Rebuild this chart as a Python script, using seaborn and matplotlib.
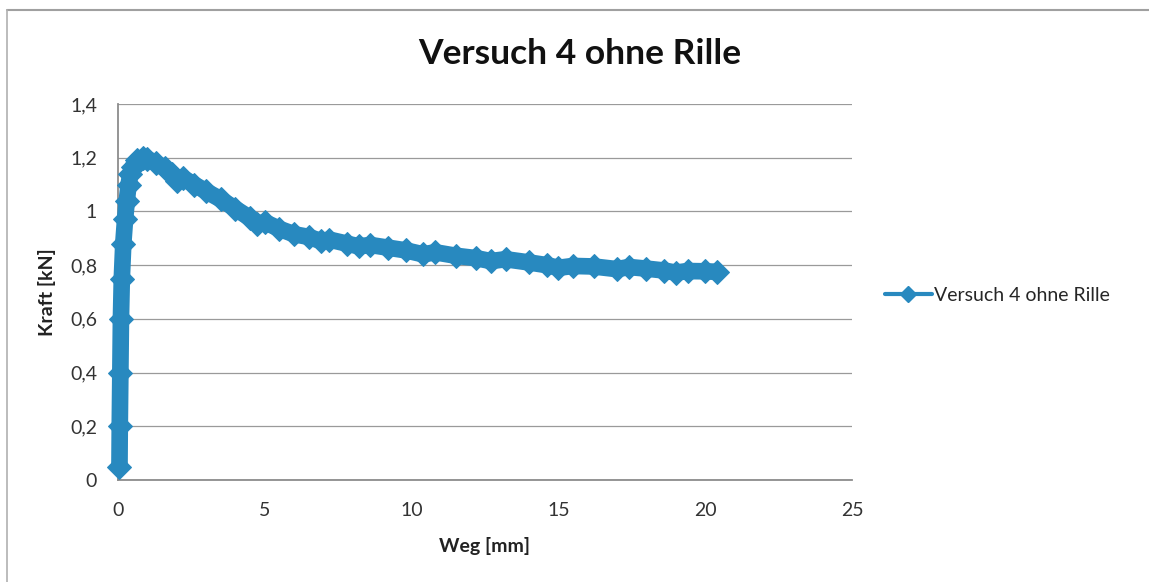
import matplotlib
matplotlib.use("Agg")
import matplotlib.pyplot as plt
import matplotlib.lines as mlines
import seaborn as sns
import pandas as pd

# Kraft-Weg-Verlauf, Versuch 4 ohne Rille
weg_mm = [0.05, 0.06, 0.08, 0.1, 0.13, 0.18, 0.24, 0.3, 0.36, 0.42, 0.5,
          0.65, 0.85, 1.0, 1.3, 1.6, 1.85, 2.0, 2.2, 2.6, 3.0, 3.5, 4.0, 4.5,
          4.75, 5.0, 5.5, 6.0, 6.5, 6.9, 7.2, 7.8, 8.2, 8.6, 9.2, 9.8, 10.4,
          10.8, 11.5, 12.2, 12.7, 13.2, 14.0, 14.6, 15.0, 15.5, 16.2, 17.0,
          17.4, 18.0, 18.6, 19.0, 19.4, 20.0, 20.4]
kraft_kn = [0.05, 0.2, 0.4, 0.6, 0.75, 0.88, 0.97, 1.04, 1.1, 1.14, 1.165,
            1.19, 1.2, 1.195, 1.18, 1.16, 1.14, 1.115, 1.125, 1.10, 1.075,
            1.045, 1.01, 0.975, 0.955, 0.96, 0.935, 0.915, 0.905, 0.89,
            0.895, 0.88, 0.87, 0.875, 0.865, 0.855, 0.84, 0.848, 0.835,
            0.826, 0.815, 0.822, 0.81, 0.80, 0.79, 0.797, 0.795, 0.785,
            0.793, 0.787, 0.78, 0.772, 0.778, 0.777, 0.775]

titel = "Versuch 4 ohne Rille"
serie = "Versuch 4 ohne Rille"
x_label = "Weg [mm]"
y_label = "Kraft [kN]"
y_ticks = [0, 0.2, 0.4, 0.6, 0.8, 1.0, 1.2, 1.4]
y_tick_labels = ["0", "0,2", "0,4", "0,6", "0,8", "1", "1,2", "1,4"]
x_ticks = [0, 5, 10, 15, 20, 25]
x_tick_labels = ["0", "5", "10", "15", "20", "25"]

df = pd.DataFrame({"Weg": weg_mm, "Kraft": kraft_kn})

sns.set_style("white")
plt.rcParams["font.family"] = ["Lato", "DejaVu Sans"]

blau = "#2889BF"
grau = "#8C8C8C"

fig = plt.figure(figsize=(11.49, 5.82), dpi=100)
ax = fig.add_axes([0.1027, 0.1753, 0.6388, 0.646])

sns.lineplot(data=df, x="Weg", y="Kraft", ax=ax, color=blau,
             estimator=None, sort=False,
             marker="D", markersize=12, markeredgecolor=blau)
# thick band for the densely sampled measurement curve
for ln in ax.lines:
    ln.set_linewidth(12)
    ln.set_solid_joinstyle("round")
    ln.set_solid_capstyle("round")
    ln.set_clip_on(False)
    ln.set_zorder(3)

ax.set_xlim(0, 25)
ax.set_ylim(0, 1.4)
ax.set_yticks(y_ticks)
ax.set_yticklabels(y_tick_labels)
ax.set_xticks(x_ticks)
ax.set_xticklabels(x_tick_labels)
ax.tick_params(axis="both", labelsize=14, labelcolor="#333333",
               color=grau, length=4, width=1, direction="out")
ax.tick_params(axis="x", pad=12)
ax.tick_params(axis="y", pad=11)

ax.grid(axis="y", color="#9A9A9A", linewidth=0.9)
ax.grid(axis="x", visible=False)
for side in ["top", "right"]:
    ax.spines[side].set_visible(False)
for side in ["left", "bottom"]:
    ax.spines[side].set_color(grau)
    ax.spines[side].set_linewidth(1.3)

ax.set_xlabel(x_label, fontsize=14, fontweight="bold", color="#222222",
              labelpad=13)
ax.set_ylabel(y_label, fontsize=14, fontweight="bold", color="#222222",
              labelpad=10)

fig.text(0.505, 0.908, titel, ha="center", va="center", fontsize=25.5,
         fontweight="bold", color="#111111")

handle = mlines.Line2D([], [], color=blau, linewidth=3, marker="D",
                       markersize=8)
fig.legend(handles=[handle], labels=[serie], loc="center left",
           bbox_to_anchor=(0.755, 0.493), frameon=False, fontsize=14,
           handlelength=2.4, handletextpad=0.1)

# Diagrammrahmen (oben und links)
fig.add_artist(mlines.Line2D([0.006, 1.0], [0.982, 0.982],
                             transform=fig.transFigure, color="#A0A0A0",
                             linewidth=1.5))
fig.add_artist(mlines.Line2D([0.0065, 0.0065], [0.0, 0.982],
                             transform=fig.transFigure, color="#B0B0B0",
                             linewidth=1.2))

fig.savefig("out.png", dpi=100)
